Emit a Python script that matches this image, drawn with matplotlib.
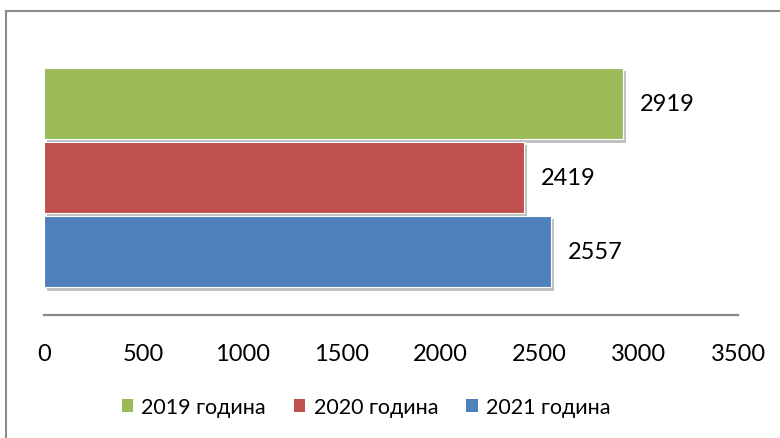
import matplotlib.pyplot as plt
import matplotlib.patheffects as pe
from matplotlib.lines import Line2D
from matplotlib.patches import Patch

# data
series = ['2019 година', '2020 година', '2021 година']
values = [2919, 2419, 2557]
colors = ['#9bbb59', '#c0504d', '#4f81bd']
ticks = [0, 500, 1000, 1500, 2000, 2500, 3000, 3500]

plt.rcParams['font.family'] = ['Lato', 'DejaVu Sans']

W, H = 780, 439
fig = plt.figure(figsize=(W / 100, H / 100), dpi=100)

# plot area in pixels (left, top, right, bottom)
l, t, r, b = 44, 30, 738, 316
ax = fig.add_axes([l / W, 1 - b / H, (r - l) / W, (b - t) / H])

# top series drawn highest
ypos = [2, 1, 0]
shadow = [pe.SimplePatchShadow(offset=(2.5, -2.5), shadow_rgbFace='#999999', alpha=0.6), pe.Normal()]
for name, v, c, y in zip(series, values, colors, ypos):
    ax.barh(y, v, height=0.97, color=c, edgecolor='white', linewidth=0.8,
            path_effects=shadow)
    ax.text(v + 85, y, str(v), va='center', ha='left', fontsize=17)

ax.set_xlim(0, 3500)
ax.set_ylim(-0.858, 3.007)
ax.set_xticks(ticks)
ax.set_xticklabels([str(x) for x in ticks], fontsize=17)
ax.set_yticks([])
ax.tick_params(axis='x', length=0, pad=20)
for s in ['top', 'right', 'left']:
    ax.spines[s].set_visible(False)
ax.spines['bottom'].set_color('#888888')
ax.spines['bottom'].set_linewidth(1.6)

handles = [Patch(facecolor=c, edgecolor='none') for c in colors]
leg = fig.legend(handles, series, loc='center', bbox_to_anchor=(366 / W, 1 - 408 / H), ncol=3,
                 frameon=False, fontsize=15.5, handlelength=0.53, handleheight=0.6,
                 handletextpad=0.38, columnspacing=1.3)

# outer chart frame, cut off at right and bottom
fig.add_artist(Line2D([5.5 / W, 5.5 / W], [0, 1 - 11.5 / H], transform=fig.transFigure,
                      color='#8c8c8c', linewidth=1.5))
fig.add_artist(Line2D([5.5 / W, 1], [1 - 11.5 / H, 1 - 11.5 / H], transform=fig.transFigure,
                      color='#8c8c8c', linewidth=1.5))

fig.savefig('out.png', dpi=100)
